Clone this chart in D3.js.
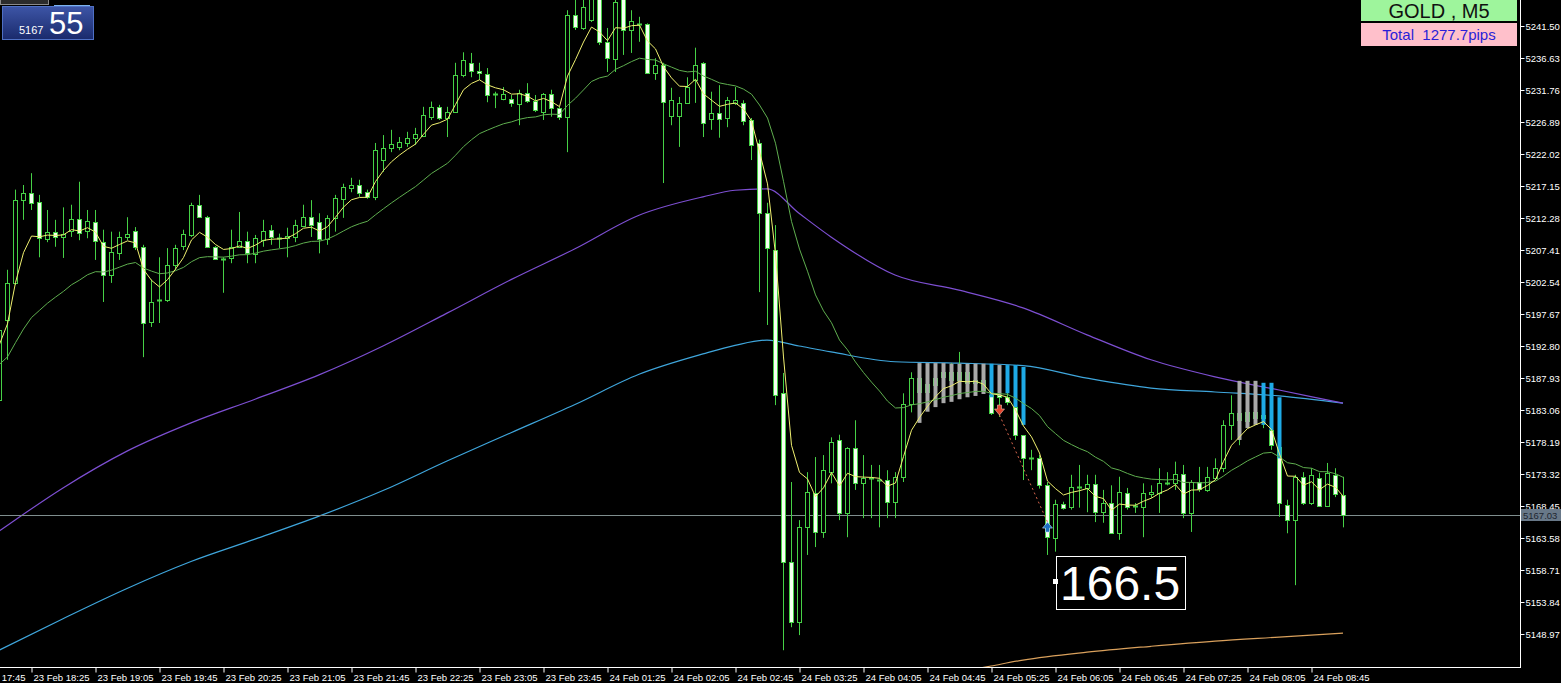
<!DOCTYPE html>
<html>
<head>
<meta charset="utf-8">
<script src="https://cdn.jsdelivr.net/npm/d3@7"></script>
<style>
  body { margin: 0; background: #000; overflow: hidden; }
  text { font-family: "Liberation Sans", Arial, sans-serif; }
</style>
</head>
<body>
<div id="chart"></div>
<script>
// ---- chart data (GOLD, M5) ----
// bar index of the first candle (0 = 23 Feb 18:25)
var firstBar = -4;

var opens = [5184.6, 5196.8, 5202.4, 5215.0,
  5216.1, 5214.7, 5209.2, 5210.2, 5209.5, 5210.2, 5212.1, 5210.3, 5211.7, 5208.6,
  5203.6, 5206.9, 5209.4, 5210.3, 5207.9, 5196.5, 5199.8, 5199.7, 5205.1, 5207.9,
  5209.7, 5214.3, 5212.4, 5207.9, 5206.0, 5206.2, 5207.9, 5208.8, 5206.8, 5208.9,
  5210.5, 5209.4, 5209.2, 5209.4, 5211.1, 5212.4, 5211.7, 5209.1, 5212.3, 5215.2,
  5216.9, 5217.3, 5216.2, 5215.5, 5221.1, 5222.9, 5223.1, 5223.7, 5224.5, 5224.8,
  5227.7, 5229.2, 5227.5, 5228.4, 5234.0, 5235.9, 5234.7, 5234.2, 5231.2, 5230.4,
  5230.4, 5229.6, 5231.3, 5230.1, 5228.4, 5231.2, 5229.0, 5227.7, 5243.2, 5241.2,
  5242.4, 5245.8, 5239.1, 5236.6, 5245.8, 5241.0, 5241.8, 5241.8, 5234.4, 5235.6,
  5227.7, 5227.8, 5229.8, 5233.3, 5235.9, 5227.4, 5228.3, 5227.4, 5229.8, 5229.8,
  5227.2, 5223.7, 5213.0, 5207.4, 5185.6, 5159.9, 5150.8, 5165.3, 5170.4, 5164.5,
  5173.6, 5178.5, 5167.4, 5177.3, 5171.9, 5172.7, 5172.4, 5172.4, 5169.1, 5172.9,
  5184.0, 5188.0, 5185.8, 5187.0, 5188.0, 5188.8, 5187.6, 5188.8, 5187.2, 5187.6,
  5185.3, 5185.3, 5185.0, 5183.5, 5179.2, 5175.7, 5175.7, 5171.6, 5163.7, 5168.8,
  5168.3, 5171.3, 5171.2, 5171.8, 5167.5, 5168.9, 5164.3, 5170.4, 5168.3, 5168.2,
  5170.3, 5170.4, 5171.9, 5171.9, 5173.3, 5167.4, 5172.1, 5170.9, 5172.7, 5174.2,
  5180.8, 5182.6, 5181.5, 5182.8, 5181.9, 5180.0, 5177.4, 5168.6, 5166.3, 5172.9,
  5168.9, 5172.7, 5168.5, 5173.2, 5170.1];

var highs = [5197.1, 5204.4, 5216.6, 5217.3,
  5219.1, 5215.8, 5213.5, 5212.0, 5213.9, 5214.3, 5217.8, 5213.5, 5213.5, 5210.5,
  5210.2, 5210.2, 5212.4, 5210.9, 5208.2, 5202.9, 5206.3, 5207.7, 5208.2, 5210.5,
  5214.6, 5215.8, 5212.6, 5208.0, 5206.3, 5210.5, 5213.2, 5210.2, 5209.7, 5212.0,
  5211.2, 5209.9, 5210.8, 5212.0, 5214.3, 5215.0, 5213.0, 5212.7, 5215.8, 5217.5,
  5218.4, 5218.1, 5216.6, 5223.7, 5224.9, 5225.7, 5224.6, 5225.4, 5226.0, 5229.2,
  5230.0, 5229.5, 5229.2, 5235.9, 5237.5, 5237.4, 5235.9, 5235.1, 5231.5, 5232.2,
  5231.0, 5231.8, 5232.8, 5231.0, 5231.3, 5231.8, 5229.2, 5243.9, 5246.2, 5245.9,
  5247.0, 5247.0, 5241.2, 5246.2, 5246.7, 5243.9, 5242.9, 5241.9, 5236.6, 5235.9,
  5232.1, 5230.7, 5233.7, 5238.2, 5236.0, 5231.5, 5232.5, 5230.7, 5232.2, 5230.2,
  5227.5, 5224.2, 5214.6, 5211.2, 5188.7, 5172.1, 5166.3, 5173.6, 5175.9, 5176.2,
  5178.9, 5179.3, 5177.4, 5181.5, 5176.2, 5174.7, 5174.7, 5173.9, 5173.6, 5185.6,
  5188.8, 5188.8, 5187.6, 5189.2, 5189.9, 5190.2, 5191.9, 5189.9, 5189.2, 5188.4,
  5187.2, 5187.2, 5186.4, 5185.1, 5179.2, 5177.0, 5176.2, 5172.1, 5169.4, 5169.1,
  5173.2, 5174.7, 5173.2, 5173.2, 5170.9, 5171.6, 5172.9, 5171.2, 5168.9, 5171.9,
  5171.6, 5174.2, 5173.6, 5175.2, 5174.7, 5172.4, 5174.4, 5174.4, 5175.7, 5181.5,
  5185.3, 5185.3, 5184.6, 5183.8, 5183.1, 5180.8, 5178.0, 5169.4, 5173.2, 5173.6,
  5174.2, 5173.5, 5175.0, 5174.2, 5172.9];

var lows = [5179.7, 5190.7, 5202.1, 5212.0,
  5213.5, 5206.3, 5208.6, 5207.9, 5206.2, 5209.4, 5208.9, 5209.2, 5205.9, 5199.5,
  5202.4, 5205.9, 5208.9, 5207.4, 5191.1, 5195.7, 5196.3, 5199.5, 5204.4, 5207.4,
  5209.4, 5212.3, 5207.9, 5205.9, 5200.9, 5205.4, 5207.9, 5205.4, 5205.4, 5207.9,
  5208.2, 5207.7, 5206.3, 5208.6, 5210.9, 5209.4, 5206.9, 5208.2, 5210.2, 5212.3,
  5216.2, 5215.5, 5215.2, 5215.0, 5219.3, 5222.3, 5222.6, 5223.1, 5223.4, 5224.6,
  5227.2, 5227.2, 5224.6, 5228.4, 5233.7, 5233.7, 5233.3, 5229.9, 5229.0, 5230.2,
  5229.2, 5226.4, 5229.8, 5228.4, 5227.2, 5227.7, 5227.2, 5222.3, 5240.9, 5240.9,
  5242.1, 5238.6, 5234.5, 5234.5, 5237.1, 5237.4, 5239.1, 5234.4, 5233.3, 5217.6,
  5226.4, 5223.1, 5229.8, 5229.8, 5224.6, 5225.7, 5224.5, 5226.1, 5229.5, 5226.4,
  5221.1, 5201.0, 5196.0, 5183.8, 5146.5, 5150.0, 5148.8, 5161.0, 5162.2, 5163.6,
  5171.9, 5166.3, 5163.7, 5170.9, 5166.6, 5166.6, 5165.2, 5166.6, 5166.6, 5172.1,
  5182.7, 5182.6, 5183.5, 5184.6, 5184.3, 5186.1, 5185.1, 5186.4, 5186.1, 5185.7,
  5182.3, 5182.0, 5183.8, 5178.5, 5172.4, 5173.9, 5171.1, 5161.0, 5161.5, 5167.9,
  5167.9, 5168.2, 5167.5, 5166.0, 5165.9, 5164.3, 5163.3, 5167.9, 5167.4, 5163.7,
  5169.7, 5167.4, 5171.6, 5170.9, 5166.6, 5164.5, 5170.6, 5170.6, 5172.4, 5173.6,
  5178.5, 5177.7, 5180.8, 5180.8, 5180.3, 5177.0, 5166.8, 5164.3, 5156.4, 5168.6,
  5168.6, 5168.3, 5168.3, 5169.8, 5165.2];

var closes = [5195.2, 5202.4, 5215.0, 5216.1,
  5214.6, 5209.2, 5210.2, 5209.5, 5209.9, 5212.1, 5209.9, 5211.8, 5208.8, 5203.6,
  5207.1, 5209.4, 5209.9, 5207.9, 5196.3, 5199.5, 5199.8, 5205.1, 5207.7, 5209.8,
  5214.3, 5212.4, 5207.9, 5206.0, 5206.0, 5207.9, 5208.8, 5206.9, 5209.2, 5210.3,
  5209.4, 5209.2, 5209.5, 5211.2, 5212.4, 5211.2, 5209.1, 5212.3, 5215.3, 5217.0,
  5217.3, 5216.1, 5215.5, 5222.6, 5222.9, 5223.5, 5223.9, 5224.5, 5225.1, 5228.0,
  5229.2, 5227.5, 5228.4, 5234.0, 5236.3, 5234.7, 5234.4, 5231.0, 5231.2, 5231.2,
  5229.8, 5231.3, 5230.1, 5228.7, 5231.2, 5229.0, 5227.7, 5243.2, 5241.4, 5244.4,
  5245.9, 5239.1, 5236.6, 5245.2, 5241.0, 5242.3, 5241.8, 5234.4, 5235.6, 5229.9,
  5230.2, 5229.8, 5232.2, 5235.6, 5226.7, 5228.3, 5227.4, 5230.2, 5230.2, 5227.0,
  5223.4, 5213.0, 5207.7, 5185.3, 5159.9, 5150.8, 5165.3, 5170.6, 5164.5, 5173.9,
  5178.2, 5167.4, 5177.3, 5171.9, 5172.7, 5172.7, 5172.4, 5169.1, 5172.9, 5184.0,
  5188.0, 5185.8, 5187.0, 5188.0, 5188.8, 5187.6, 5188.8, 5187.2, 5187.6, 5186.1,
  5182.6, 5185.0, 5184.3, 5179.2, 5175.7, 5175.7, 5171.6, 5163.7, 5168.8, 5168.2,
  5171.3, 5171.3, 5171.8, 5167.5, 5168.9, 5164.3, 5170.6, 5168.3, 5168.5, 5170.4,
  5170.6, 5171.9, 5171.9, 5173.3, 5167.4, 5172.1, 5171.0, 5172.9, 5174.2, 5180.8,
  5182.6, 5181.5, 5182.8, 5181.9, 5182.3, 5177.7, 5168.9, 5166.3, 5172.9, 5168.9,
  5173.2, 5168.5, 5173.5, 5170.3, 5167.03];

// long moving averages at these bar indexes
var longMaBars = [-4, 4, 12, 20, 28, 36, 44, 52, 60, 68, 76, 84, 88, 92, 96, 100, 108, 116, 124, 132, 140, 148, 156, 164];
var purpleMa = [5164.6, 5171.2, 5176.8, 5181.1, 5184.7, 5188.4, 5192.8, 5197.8, 5202.9, 5207.6, 5212.7, 5215.5,
  5216.5, 5216.7, 5213.0, 5209.4, 5203.6, 5201.3, 5198.6, 5194.5, 5190.7, 5188.1, 5186.1, 5184.1];
var cyanMa = [5146.5, 5151.3, 5155.9, 5160.0, 5163.4, 5166.9, 5170.8, 5175.3, 5179.6, 5183.9, 5188.5, 5191.6,
  5192.9, 5193.7, 5192.8, 5191.9, 5190.4, 5190.2, 5189.8, 5187.9, 5186.4, 5185.8, 5185.2, 5184.1];
var orangeBars = [112, 120, 124, 132, 140, 148, 156, 164];
var orangeMa = [5142.3, 5144.1, 5145.0, 5146.2, 5147.1, 5147.9, 5148.5, 5149.1];

// fast / slow MA settings and their value before the first visible bar
var fastPeriod = 5, fastStart = 5192.0;
var slowPeriod = 21, slowStart = 5189.5;

// zone histogram bars (top, bottom, kind)
var zoneBars = [111, 112, 113, 114, 115, 116, 117, 118, 119, 120, 121, 122, 123, 124, 151, 152, 153, 154, 155, 156];
var zoneTop = [5190.2, 5190.2, 5190.2, 5190.2, 5190.1, 5190.1, 5190.1, 5190.1, 5190.1, 5190.1, 5189.9, 5189.9, 5189.9, 5189.6,
  5187.5, 5187.5, 5187.5, 5187.2, 5187.2, 5185.0];
var zoneBottom = [5181.1, 5182.8, 5183.5, 5184.1, 5184.3, 5184.7, 5185.0, 5185.2, 5185.5, 5185.0, 5185.3, 5185.6, 5183.5, 5180.8,
  5178.5, 5180.3, 5180.8, 5180.8, 5180.0, 5175.7];
var zoneKind = ["g", "g", "g", "g", "g", "g", "g", "g", "g", "b", "g", "b", "b", "b", "g", "g", "g", "b", "b", "b"];

// signals
var sellBar = 121, sellPrice = 5182.3;
var buyBar = 127, buyPrice = 5166.0;
var distanceText = "166.5";

// axes
var tickBars = [-8, 0, 8, 16, 24, 32, 40, 48, 56, 64, 72, 80, 88, 96, 104, 112, 120, 128, 136, 144, 152, 160];
var tickLabels = ["23 Feb 17:45", "23 Feb 18:25", "23 Feb 19:05", "23 Feb 19:45", "23 Feb 20:25", "23 Feb 21:05",
  "23 Feb 21:45", "23 Feb 22:25", "23 Feb 23:05", "23 Feb 23:45", "24 Feb 01:25", "24 Feb 02:05", "24 Feb 02:45",
  "24 Feb 03:25", "24 Feb 04:05", "24 Feb 04:45", "24 Feb 05:25", "24 Feb 06:05", "24 Feb 06:45", "24 Feb 07:25",
  "24 Feb 08:05", "24 Feb 08:45"];
var priceTicks = [5241.50, 5236.63, 5231.76, 5226.89, 5222.02, 5217.15, 5212.28, 5207.41, 5202.54, 5197.67,
  5192.80, 5187.93, 5183.06, 5178.19, 5173.32, 5168.45, 5163.58, 5158.71, 5153.84, 5148.97];
var lastPrice = 5167.03;
var symbolText = "GOLD , M5";
var totalText = "Total  1277.7pips";
var bidBig = "55", bidSmall = "5167";

// ---- layout ----
var svgWidth = 1561;
var svgHeight = 683;
var plotRight = 1520;
var plotBottom = 667;

var svg = d3.select("#chart")
  .append("svg")
  .attr("width", svgWidth)
  .attr("height", svgHeight)
  .style("background", "#000");

var defs = svg.append("defs");
defs.append("clipPath").attr("id", "plotClip")
  .append("rect").attr("x", 0).attr("y", 0).attr("width", plotRight).attr("height", plotBottom);
var grad = defs.append("linearGradient").attr("id", "bidGrad")
  .attr("x1", 0).attr("y1", 0).attr("x2", 0).attr("y2", 1);
grad.append("stop").attr("offset", "0%").attr("stop-color", "#3d55a6");
grad.append("stop").attr("offset", "100%").attr("stop-color", "#1a2a6c");

var x = d3.scaleLinear().domain([0, 164]).range([31, 1343]);
var y = d3.scaleLinear().domain([5148.97, 5241.50]).range([634, 26]);
var px = function(i) { return Math.round(x(i)); };

var plot = svg.append("g").attr("clip-path", "url(#plotClip)");

// long moving averages
var longLine = d3.line()
  .x(d => x(d[0]))
  .y(d => y(d[1]))
  .curve(d3.curveMonotoneX);

plot.append("path")
  .datum(longMaBars.map((b, k) => [b, cyanMa[k]]))
  .attr("d", longLine).attr("fill", "none").attr("stroke", "#3fa6dc").attr("stroke-width", 1.2);
plot.append("path")
  .datum(longMaBars.map((b, k) => [b, purpleMa[k]]))
  .attr("d", longLine).attr("fill", "none").attr("stroke", "#7d4fd2").attr("stroke-width", 1.2);
plot.append("path")
  .datum(orangeBars.map((b, k) => [b, orangeMa[k]]))
  .attr("d", longLine).attr("fill", "none").attr("stroke", "#d9a05c").attr("stroke-width", 1.2);

// bid line
plot.append("line")
  .attr("x1", 0).attr("x2", plotRight)
  .attr("y1", Math.round(y(lastPrice)) + 0.5).attr("y2", Math.round(y(lastPrice)) + 0.5)
  .attr("stroke", "#7f8e8e");

// candles
var bars = opens.map(function(o, k) {
  return { i: firstBar + k, o: o, h: highs[k], l: lows[k], c: closes[k] };
});
var candleGreen = "#46d146";

plot.selectAll(".wick")
  .data(bars)
  .enter()
  .append("line")
  .attr("x1", d => px(d.i) + 0.5)
  .attr("x2", d => px(d.i) + 0.5)
  .attr("y1", d => y(d.h))
  .attr("y2", d => y(d.l))
  .attr("stroke", candleGreen);

var solid = bars.filter(d => Math.abs(y(d.o) - y(d.c)) >= 1.5);
var dojis = bars.filter(d => Math.abs(y(d.o) - y(d.c)) < 1.5);

plot.selectAll(".body")
  .data(solid)
  .enter()
  .append("rect")
  .attr("x", d => px(d.i) - 1.5)
  .attr("width", 4)
  .attr("y", d => Math.round(y(Math.max(d.o, d.c))) + 0.5)
  .attr("height", d => Math.round(Math.abs(y(d.o) - y(d.c))))
  .attr("fill", d => d.c < d.o ? "#f4fff0" : "#000")
  .attr("stroke", candleGreen);

plot.selectAll(".doji")
  .data(dojis)
  .enter()
  .append("line")
  .attr("x1", d => px(d.i) - 2)
  .attr("x2", d => px(d.i) + 3)
  .attr("y1", d => Math.round(y(d.c)) + 0.5)
  .attr("y2", d => Math.round(y(d.c)) + 0.5)
  .attr("stroke", candleGreen)
  .attr("stroke-width", 2);

// zone histogram
plot.selectAll(".zone")
  .data(zoneBars)
  .enter()
  .append("rect")
  .attr("x", d => px(d) - 1.5)
  .attr("width", 4)
  .attr("y", (d, k) => y(zoneTop[k]))
  .attr("height", (d, k) => y(zoneBottom[k]) - y(zoneTop[k]))
  .attr("fill", (d, k) => zoneKind[k] === "b" ? "#1eaae6" : "#a9a9a9");

// fast and slow moving averages of the closes
function ema(values, period, start) {
  var k = 2 / (period + 1), prev = start;
  return values.map(function(v) { prev = prev + k * (v - prev); return prev; });
}
var fastMa = ema(closes, fastPeriod, fastStart);
var slowMa = ema(closes, slowPeriod, slowStart);
var maLine = d3.line().x(d => px(d[0]) + 0.5).y(d => y(d[1]));

plot.append("path")
  .datum(slowMa.map((v, k) => [firstBar + k, v]))
  .attr("d", maLine).attr("fill", "none").attr("stroke", "#5fae4f").attr("stroke-width", 1);
plot.append("path")
  .datum(fastMa.map((v, k) => [firstBar + k, v]))
  .attr("d", maLine).attr("fill", "none").attr("stroke", "#f0f070").attr("stroke-width", 1);

// signal link and arrows
plot.append("line")
  .attr("x1", px(sellBar) + 0.5).attr("y1", y(sellPrice))
  .attr("x2", px(buyBar) + 0.5).attr("y2", y(buyPrice))
  .attr("stroke", "#d8664e").attr("stroke-dasharray", "2,3");

plot.append("path")
  .attr("transform", `translate(${px(sellBar) + 0.5}, ${y(sellPrice)})`)
  .attr("d", "M-2,-10 L2,-10 L2,-6 L5,-6 L0,0 L-5,-6 L-2,-6 Z")
  .attr("fill", "#e2442e").attr("stroke", "#f3c0b0").attr("stroke-width", 0.6);
plot.append("path")
  .attr("transform", `translate(${px(buyBar) + 0.5}, ${y(buyPrice)})`)
  .attr("d", "M-2,10 L2,10 L2,6 L5,6 L0,0 L-5,6 L-2,6 Z")
  .attr("fill", "#1c6fc0").attr("stroke", "#c8e0f8").attr("stroke-width", 0.6);

// distance label
var boxX = px(buyBar) + 9;
svg.append("rect")
  .attr("x", boxX + 0.5).attr("y", 556.5).attr("width", 129).attr("height", 53)
  .attr("fill", "#000").attr("stroke", "#fff");
svg.append("rect")
  .attr("x", boxX - 3).attr("y", 579).attr("width", 5).attr("height", 5).attr("fill", "#fff");
svg.append("text")
  .attr("x", boxX + 4).attr("y", 600)
  .attr("fill", "#fff").attr("font-size", "48px")
  .text(distanceText);

// price axis
var yAxis = d3.axisRight(y).tickValues(priceTicks).tickSize(4).tickPadding(1).tickFormat(d3.format(".2f"));
var yAxisG = svg.append("g")
  .attr("transform", `translate(${plotRight + 0.5}, 0)`)
  .call(yAxis);
yAxisG.select(".domain").remove();
yAxisG.selectAll("line").attr("stroke", "#fff");
yAxisG.selectAll("text").attr("fill", "#fff").attr("font-size", "9.5px")
  .style("font-family", "'Liberation Sans', Arial, sans-serif");

// time axis
var xAxis = d3.axisBottom(x).tickValues(tickBars).tickSize(5).tickPadding(2)
  .tickFormat((d, k) => tickLabels[k]);
var xAxisG = svg.append("g")
  .attr("transform", `translate(0, ${plotBottom + 0.5})`)
  .call(xAxis);
xAxisG.select(".domain").remove();
xAxisG.selectAll("line").attr("stroke", "#fff").attr("transform", "translate(0.5,0)");
xAxisG.selectAll("text").attr("fill", "#fff").attr("font-size", "9.5px")
  .attr("text-anchor", "start").attr("dx", 2)
  .style("font-family", "'Liberation Sans', Arial, sans-serif");

// frame
svg.append("line").attr("x1", 0).attr("x2", plotRight + 1)
  .attr("y1", plotBottom + 0.5).attr("y2", plotBottom + 0.5).attr("stroke", "#fff");
svg.append("line").attr("x1", plotRight + 0.5).attr("x2", plotRight + 0.5)
  .attr("y1", 0).attr("y2", plotBottom + 1).attr("stroke", "#fff");

// bid label on the axis
svg.append("rect")
  .attr("x", plotRight + 1).attr("y", Math.round(y(lastPrice)) - 6)
  .attr("width", 40).attr("height", 12).attr("fill", "#687888");
svg.append("text")
  .attr("x", plotRight + 3).attr("y", Math.round(y(lastPrice)) + 4)
  .attr("fill", "#1e2630").attr("font-size", "9.5px")
  .text(d3.format(".2f")(lastPrice));

// symbol / total panels
svg.append("rect").attr("x", 1361).attr("y", 0).attr("width", 156).attr("height", 21).attr("fill", "#9ef59c");
svg.append("text").attr("x", 1439).attr("y", 18).attr("text-anchor", "middle")
  .attr("font-size", "20px").attr("fill", "#111").text(symbolText);
svg.append("rect").attr("x", 1361).attr("y", 23).attr("width", 156).attr("height", 23).attr("fill", "#ffc0cb");
svg.append("text").attr("x", 1439).attr("y", 40).attr("text-anchor", "middle")
  .attr("font-size", "15px").attr("fill", "#2a1ed8").style("white-space", "pre").text(totalText);

// bid panel top-left
svg.append("rect").attr("x", 0.5).attr("y", -0.5).attr("width", 48).attr("height", 5)
  .attr("fill", "#2c2c2c").attr("stroke", "#8a8a8a");
svg.append("line").attr("x1", 54).attr("x2", 90).attr("y1", 5.5).attr("y2", 5.5).attr("stroke", "#7cb2ee");
svg.append("rect").attr("x", 2.5).attr("y", 6.5).attr("width", 91).attr("height", 33)
  .attr("fill", "url(#bidGrad)").attr("stroke", "#4f70c4");
svg.append("text").attr("x", 19).attr("y", 34).attr("fill", "#fff").attr("font-size", "11px").text(bidSmall);
svg.append("text").attr("x", 49).attr("y", 34).attr("fill", "#fff").attr("font-size", "31px").text(bidBig);
</script>
</body>
</html>
